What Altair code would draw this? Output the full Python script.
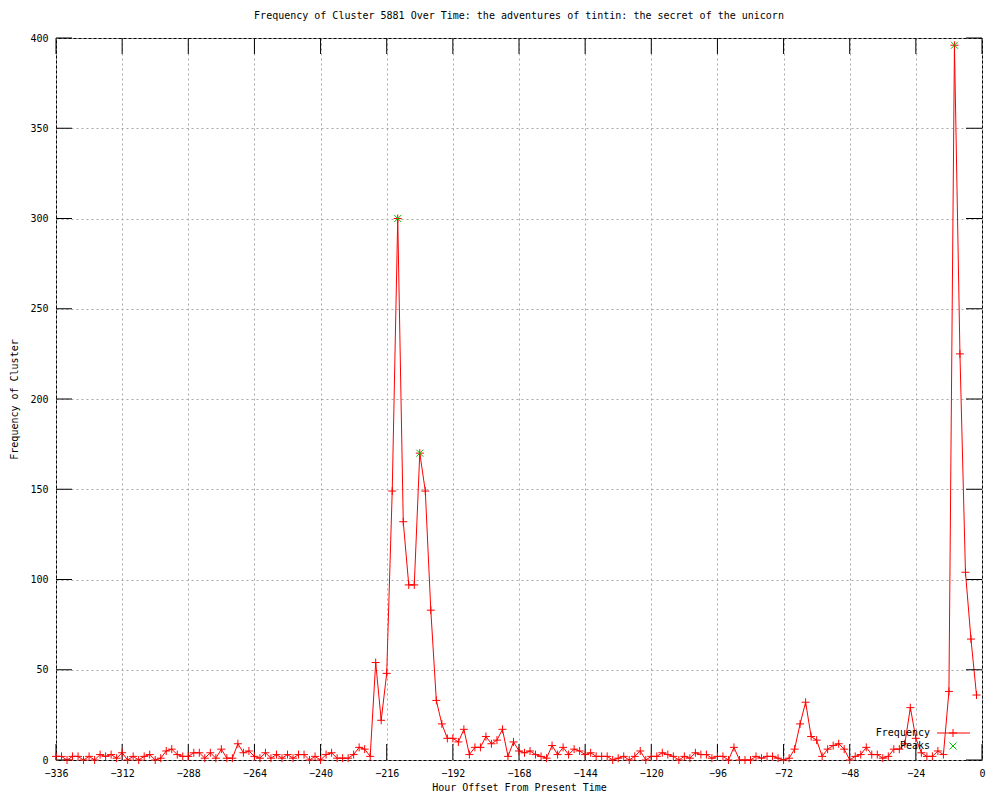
import altair as alt
import pandas as pd

# ---- data ----
hours = list(range(-336, 0, 2))  # -336 .. -2, every 2 hours (168 points)
freq = [
    2, 2, 0, 2, 2, 0, 2, 0, 3, 2, 3, 1, 4, 0, 2, 0, 2, 3, 0, 1,
    5, 6, 3, 2, 2, 4, 4, 1, 4, 1, 6, 1, 1, 9, 4, 5, 2, 1, 4, 1,
    3, 1, 3, 1, 3, 3, 0, 2, 0, 3, 4, 1, 1, 1, 3, 7, 6, 2, 54, 22,
    48, 149, 300, 132, 97, 97, 170, 149, 83, 33, 20, 12, 12, 10, 17, 3, 7, 7, 13, 9,
    11, 17, 2, 10, 5, 4, 5, 3, 2, 1, 8, 3, 7, 3, 6, 5, 3, 4, 2, 2,
    2, 0, 1, 2, 0, 2, 5, 0, 2, 2, 4, 3, 2, 0, 2, 1, 4, 3, 3, 1,
    2, 2, 0, 7, 0, 0, 0, 2, 1, 2, 2, 1, 0, 1, 6, 20, 32, 13, 11, 2,
    6, 8, 9, 6, 0, 2, 3, 7, 3, 3, 1, 2, 6, 6, 9, 29, 12, 4, 2, 2,
    5, 3, 38, 396, 225, 104, 67, 36,
]
peak_hours = [-212, -204, -10]
peak_values = [300, 170, 396]
x_ticks = list(range(-336, 1, 24))
y_ticks = list(range(0, 401, 50))
legend_labels = ["Frequency", "Peaks"]

title_text = "Frequency of Cluster 5881 Over Time: the adventures of tintin: the secret of the unicorn"
x_title = "Hour Offset From Present Time"
y_title = "Frequency of Cluster"

W, H = 926, 722
FONT = "DejaVu Sans Mono"
RED = "#ff0000"
GREEN = "#00c000"
GRID = "#a8a8a8"
PLUS = "M-1,0L1,0M0,-1L0,1"
CROSS = "M-1,-1L1,1M-1,1L1,-1"
TICK = 16

df = pd.DataFrame({"hour": hours, "freq": freq})
peaks = pd.DataFrame({"hour": peak_hours, "freq": peak_values})
xt = pd.DataFrame({"t": x_ticks})
yt = pd.DataFrame({"t": y_ticks})

xscale = alt.Scale(domain=[-336, 0], nice=False, zero=False)
yscale = alt.Scale(domain=[0, 400], nice=False, zero=True)

common_axis = dict(grid=True, gridColor=GRID, gridDash=[2, 3], gridWidth=1, gridOpacity=1,
                   domain=False, ticks=False, labelFont=FONT, labelFontSize=10,
                   labelColor="black", titleFont=FONT, titleFontSize=10,
                   titleFontWeight="normal", titleColor="black")

x_enc = alt.X("hour:Q", scale=xscale, title=x_title,
              axis=alt.Axis(values=x_ticks, labelPadding=8, titlePadding=4,
                            labelFlush=False, **common_axis))
y_enc = alt.Y("freq:Q", scale=yscale, title=y_title,
              axis=alt.Axis(values=y_ticks, labelPadding=8, titlePadding=10, **common_axis))

line = alt.Chart(df).mark_line(color=RED, strokeWidth=1).encode(x=x_enc, y=y_enc)
pts = alt.Chart(df).mark_point(shape=PLUS, filled=False, stroke=RED, strokeWidth=1,
                               size=64, opacity=1).encode(x="hour:Q", y="freq:Q")
pk = alt.Chart(peaks).mark_point(shape=CROSS, filled=False, stroke=GREEN, strokeWidth=1,
                                 size=49, opacity=1).encode(x="hour:Q", y="freq:Q")

# inward ticks on all four sides
xb = alt.Chart(xt).mark_rule(color="black", strokeWidth=1).encode(
    x=alt.X("t:Q", scale=xscale), y=alt.value(H), y2=alt.value(H - TICK))
xtop = alt.Chart(xt).mark_rule(color="black", strokeWidth=1).encode(
    x=alt.X("t:Q", scale=xscale), y=alt.value(0), y2=alt.value(TICK))
yl = alt.Chart(yt).mark_rule(color="black", strokeWidth=1).encode(
    y=alt.Y("t:Q", scale=yscale), x=alt.value(0), x2=alt.value(TICK))
yr = alt.Chart(yt).mark_rule(color="black", strokeWidth=1).encode(
    y=alt.Y("t:Q", scale=yscale), x=alt.value(W), x2=alt.value(W - TICK))

# key (inside plot, bottom right)
one = pd.DataFrame({"label": [legend_labels[0]]})
two = pd.DataFrame({"label": [legend_labels[1]]})
k1t = alt.Chart(one).mark_text(align="right", baseline="middle", font=FONT, fontSize=10,
                               color="black").encode(text="label:N", x=alt.value(874), y=alt.value(695))
k2t = alt.Chart(two).mark_text(align="right", baseline="middle", font=FONT, fontSize=10,
                               color="black").encode(text="label:N", x=alt.value(874), y=alt.value(708))
k1l = alt.Chart(one).mark_rule(color=RED, strokeWidth=1).encode(
    x=alt.value(881), x2=alt.value(914), y=alt.value(695))
k1p = alt.Chart(one).mark_point(shape=PLUS, filled=False, stroke=RED, strokeWidth=1, size=64,
                                opacity=1).encode(x=alt.value(897), y=alt.value(695))
k2p = alt.Chart(two).mark_point(shape=CROSS, filled=False, stroke=GREEN, strokeWidth=1, size=49,
                                opacity=1).encode(x=alt.value(897), y=alt.value(708))

chart = alt.layer(line, xb, xtop, yl, yr, pts, pk, k1t, k2t, k1l, k1p, k2p).properties(
    width=W, height=H,
    title=alt.TitleParams(title_text, font=FONT, fontSize=10, fontWeight="normal",
                          color="black", anchor="middle", offset=12),
    autosize=alt.AutoSizeParams(type="none"),
    padding={"left": 48, "top": 30, "right": 10, "bottom": 32},
    background="white",
).configure_view(stroke="black", strokeWidth=1)

chart.save("out.html", embed_options={"renderer": "svg", "actions": False})
